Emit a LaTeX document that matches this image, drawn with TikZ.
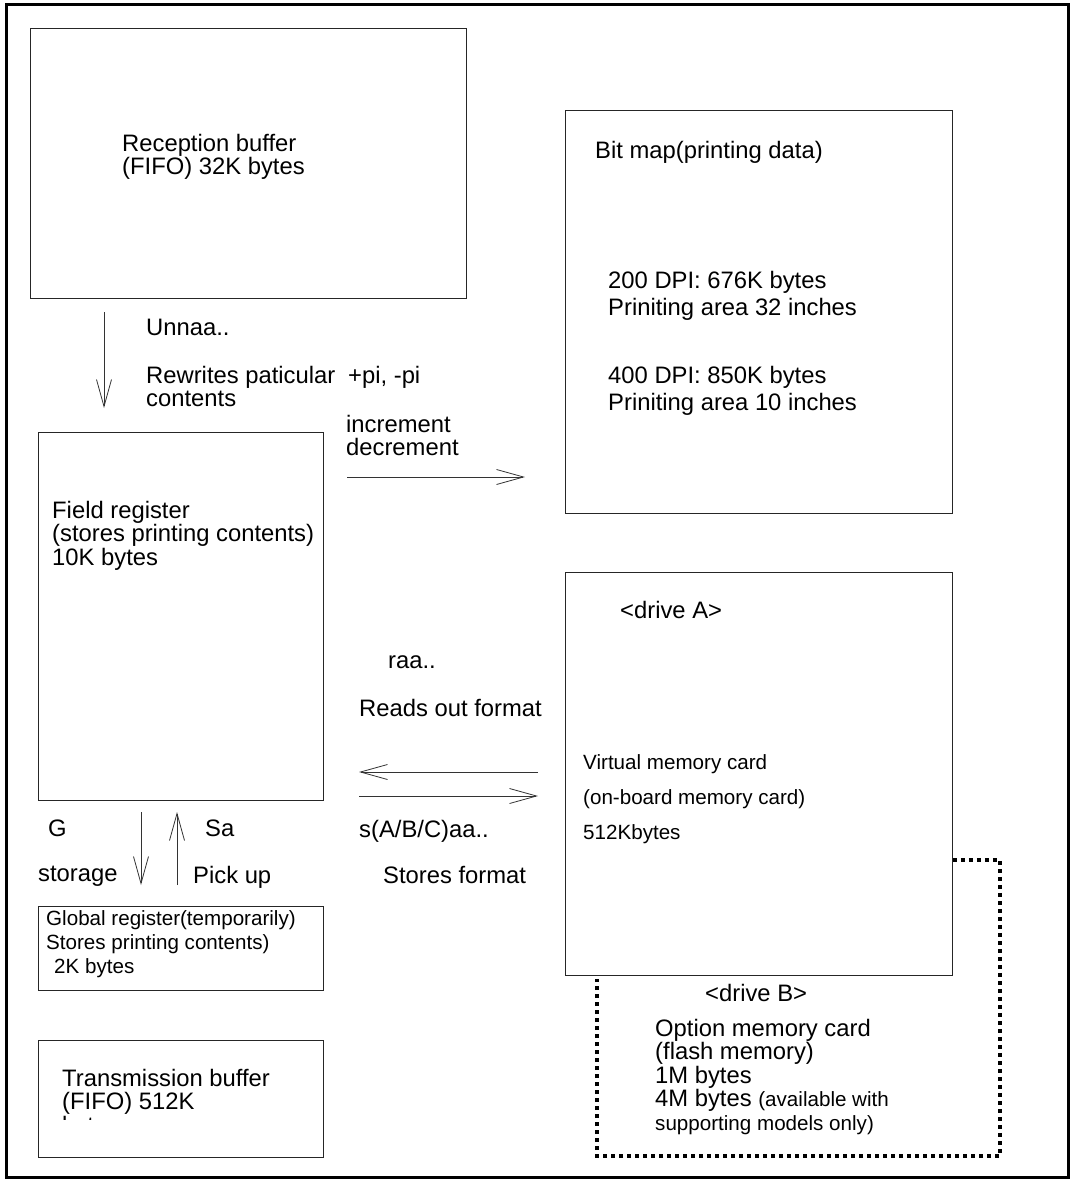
\documentclass[tikz,border=0pt]{standalone}
\usepackage{fontspec}
\setmainfont{Liberation Sans}
\usetikzlibrary{arrows.meta, positioning, calc}

\begin{document}
\begin{tikzpicture}[x=1pt, y=-1pt,
    box/.style={rectangle, draw=black!85, line width=0.9pt, anchor=north west, inner sep=0pt},
    txt/.style={anchor=north west, inner sep=0pt, align=left, font=\fontsize{23.8}{23.5}\selectfont},
    small/.style={anchor=north west, inner sep=0pt, align=left, font=\fontsize{20.6}{24}\selectfont},
    arrow/.style={draw=black!80, line width=0.8pt, -{Straight Barb[length=27pt, width=15pt, line width=0.8pt]}},
    dotline/.style={line width=4.2pt, dash pattern=on 4pt off 4pt}
]
\useasboundingbox (0,0) rectangle (1073,1182);
\draw[line width=3pt] (6,5) rectangle (1068,1177);

% Boxes
\node[box, minimum width=436pt, minimum height=270pt] (recep) at (30,28) {};
\node[box, minimum width=387pt, minimum height=403pt] (bitmap) at (565,110) {};
\node[box, minimum width=285pt, minimum height=368pt] (field) at (38,432) {};
\node[box, minimum width=387pt, minimum height=403pt] (drivea) at (565,572) {};
\node[box, minimum width=285pt, minimum height=84pt] (global) at (38,906) {};
\node[box, minimum width=285pt, minimum height=117pt] (trans) at (38,1040) {};

% Box texts
\node[txt] (receptxt) at (122,134) {Reception buffer\\(FIFO) 32K bytes};
\node[txt] (bitmaptxt) at (595,141) {Bit map(printing data)};
\node[txt, font=\fontsize{23.8}{27}\selectfont] (dpia) at (608,271) {200 DPI: 676K bytes\\Priniting area 32 inches};
\node[txt, font=\fontsize{23.8}{27}\selectfont] (dpib) at (608,366) {400 DPI: 850K bytes\\Priniting area 10 inches};
\node[txt] (fieldtxt) at (52,501) {Field register\\(stores printing contents)\\10K bytes};
\node[txt] (drivealbl) at (620,601) {<drive A>};
\node[small, font=\fontsize{20.6}{35}\selectfont] (virtual) at (583,754) {Virtual memory card\\(on-board memory card)\\512Kbytes};
\node[small] (globaltxt) at (46,910) {Global register(temporarily)\\Stores printing contents)\\\hspace{8pt}2K bytes};
\node[txt] (drivebl) at (705,984) {<drive B>};
\node[txt] (option) at (655,1019) {Option memory card\\(flash memory)\\1M bytes\\4M bytes {\fontsize{20.6}{23.5}\selectfont(available with}\\{\fontsize{20.6}{23.5}\selectfont supporting models only)}};
\begin{scope}
  \clip (40,1042) rectangle (320,1119);
  \node[txt] (transtxt) at (62,1069) {Transmission buffer\\(FIFO) 512K\\bytes};
\end{scope}

% Labels
\node[txt] (unnaa) at (146,319) {Unnaa..};
\node[txt] (rewrites) at (146,366) {Rewrites paticular\\contents};
\node[txt] (pipm) at (348,366) {+pi, -pi};
\node[txt] (incdec) at (346,415) {increment\\decrement};
\node[txt] (raa) at (388,655) {raa..};
\node[txt] (reads) at (359,699) {Reads out format};
\node[txt] (saa) at (359,820) {s(A/B/C)aa..};
\node[txt] (stores) at (383,866) {Stores format};
\node[txt] (glbl) at (48,820) {G};
\node[txt] (storage) at (38,866) {storage};
\node[txt] (salbl) at (205,820) {Sa};
\node[txt] (pickup) at (193,866) {Pick up};

% Arrow ends
\coordinate (a1s) at (104,312);
\coordinate (a1e) at (104,408);
\coordinate (a2s) at (347,477);
\coordinate (a2e) at (525,477);
\coordinate (a3s) at (538,772);
\coordinate (a3e) at (359,772);
\coordinate (a4s) at (359,796);
\coordinate (a4e) at (538,796);
\coordinate (a5s) at (141,812);
\coordinate (a5e) at (141,885);
\coordinate (a6s) at (177,885);
\coordinate (a6e) at (177,812);

% Connections
\draw[arrow] (a1s) -- (a1e);
\draw[arrow] (a2s) -- (a2e);
\draw[arrow] (a3s) -- (a3e);
\draw[arrow] (a4s) -- (a4e);
\draw[arrow] (a5s) -- (a5e);
\draw[arrow] (a6s) -- (a6e);

% Option card outline
\coordinate (d1) at (drivea.east |- 0,860);
\coordinate (d2) at (1000,860);
\coordinate (d3) at (1000,1156);
\coordinate (d4) at (597,1156);
\coordinate (d5) at (597,979);
\draw[dotline] (d1) -- (d2) -- (d3) -- (d4) -- (d5);
\end{tikzpicture}
\end{document}
